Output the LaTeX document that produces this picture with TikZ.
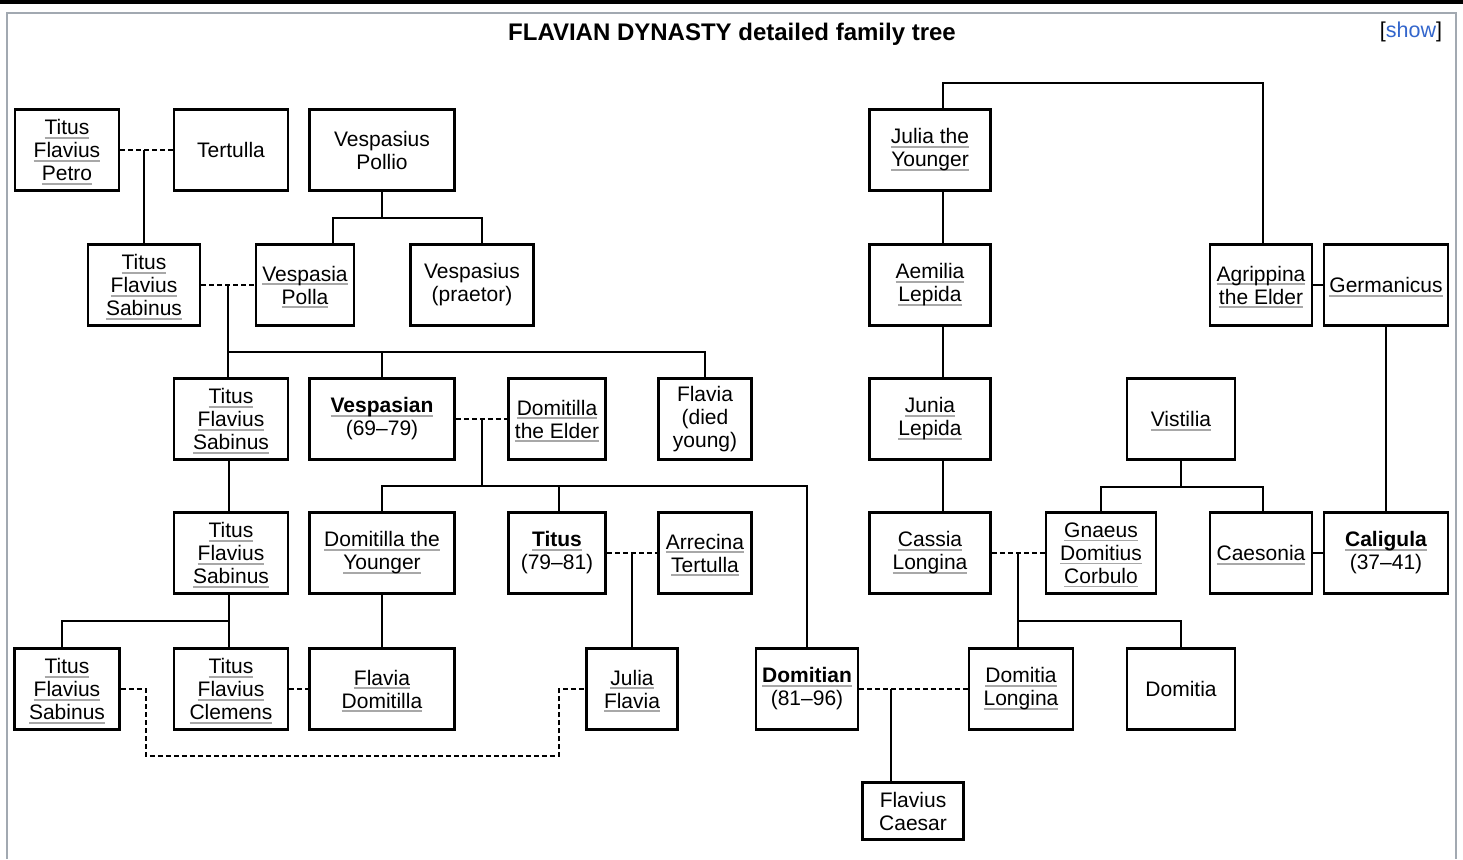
\documentclass[tikz,border=0pt]{standalone}
\usepackage{fontspec}
\setmainfont{Liberation Sans}
\usetikzlibrary{calc}

\definecolor{linkgray}{HTML}{A8A8A8}
\definecolor{framegray}{HTML}{A2A9B1}
\definecolor{linkblue}{HTML}{3366CC}

% grey link underline, one per text line
\newcommand\lnk[1]{\leavevmode\setbox0\hbox{#1}\rlap{\smash{\textcolor{linkgray}{\rule[-4.2pt]{\wd0}{1.8pt}}}}\box0}

\begin{document}
\begin{tikzpicture}[x=1pt, y=-1pt,
	person/.style={draw, line width=2.6pt, inner sep=2pt, minimum height=80.5pt, align=center,
		font=\fontsize{21}{23}\selectfont},
	descent/.style={line width=2pt},
	marriage/.style={line width=1.6pt, dash pattern=on 5pt off 3pt}]
	\useasboundingbox (0, 0) rectangle (1463, 859);
	\fill[white] (0, 0) rectangle (1463, 859);
	\fill[black] (0, 0) rectangle (1463, 4);
	\draw[framegray, line width=1.5pt] (7, 859) |- (1456, 13) -- (1456, 859);

	\draw (732, 34) node[font=\fontsize{24}{26}\selectfont\bfseries] (title) {FLAVIAN DYNASTY detailed family tree};
	\draw (1411, 32) node[font=\fontsize{21.5}{23}\selectfont] (showlink) {[\textcolor{linkblue}{show}]};

	% row 1
	\draw (67, 150) 	node[person, minimum width=104pt] 	(petro) 	{\lnk{Titus}\\\lnk{Flavius}\\\lnk{Petro}};
	\draw (231, 150) 	node[person, minimum width=114pt] 	(tertulla) 	{Tertulla};
	\draw (382, 150) 	node[person, minimum width=145pt] 	(pollio) 	{Vespasius\\Pollio};
	\draw (930, 150) 	node[person, minimum width=121pt] 	(juliay) 	{\lnk{Julia the}\\\lnk{Younger}};
	% row 2
	\draw (144, 285) 	node[person, minimum width=112pt] 	(tfs1) 		{\lnk{Titus}\\\lnk{Flavius}\\\lnk{Sabinus}};
	\draw (305, 285) 	node[person, minimum width=98pt] 	(polla) 	{\lnk{Vespasia}\\\lnk{Polla}};
	\draw (472, 285) 	node[person, minimum width=123pt] 	(praetor) 	{Vespasius\\(praetor)};
	\draw (930, 285) 	node[person, minimum width=121pt] 	(aemilia) 	{\lnk{Aemilia}\\\lnk{Lepida}};
	\draw (1261, 285) 	node[person, minimum width=102pt] 	(agrippina) 	{\lnk{Agrippina}\\\lnk{the Elder}};
	\draw (1386, 285) 	node[person, minimum width=124pt] 	(germanicus) 	{\lnk{Germanicus}};
	% row 3
	\draw (231, 419) 	node[person, minimum width=114pt] 	(tfs2) 		{\lnk{Titus}\\\lnk{Flavius}\\\lnk{Sabinus}};
	\draw (382, 419) 	node[person, minimum width=145pt] 	(vespasian) 	{\lnk{\textbf{Vespasian}}\\(69--79)};
	\draw (557, 419) 	node[person, minimum width=97pt] 	(domelder) 	{\lnk{Domitilla}\\\lnk{the Elder}};
	\draw (705, 419) 	node[person, minimum width=93pt] 	(flaviady) 	{Flavia\\(died\\young)};
	\draw (930, 419) 	node[person, minimum width=121pt] 	(junia) 	{\lnk{Junia}\\\lnk{Lepida}};
	\draw (1181, 419) 	node[person, minimum width=108pt] 	(vistilia) 	{\lnk{Vistilia}};
	% row 4
	\draw (231, 553) 	node[person, minimum width=114pt] 	(tfs3) 		{\lnk{Titus}\\\lnk{Flavius}\\\lnk{Sabinus}};
	\draw (382, 553) 	node[person, minimum width=145pt] 	(domyounger) 	{\lnk{Domitilla the}\\\lnk{Younger}};
	\draw (557, 553) 	node[person, minimum width=97pt] 	(titus) 	{\lnk{\textbf{Titus}}\\(79--81)};
	\draw (705, 553) 	node[person, minimum width=93pt] 	(arrecina) 	{\lnk{Arrecina}\\\lnk{Tertulla}};
	\draw (930, 553) 	node[person, minimum width=121pt] 	(cassia) 	{\lnk{Cassia}\\\lnk{Longina}};
	\draw (1101, 553) 	node[person, minimum width=110pt] 	(corbulo) 	{\lnk{Gnaeus}\\\lnk{Domitius}\\\lnk{Corbulo}};
	\draw (1261, 553) 	node[person, minimum width=102pt] 	(caesonia) 	{\lnk{Caesonia}};
	\draw (1386, 553) 	node[person, minimum width=124pt] 	(caligula) 	{\lnk{\textbf{Caligula}}\\(37--41)};
	% row 5
	\draw (67, 689) 	node[person, minimum width=105pt] 	(tfs4) 		{\lnk{Titus}\\\lnk{Flavius}\\\lnk{Sabinus}};
	\draw (231, 689) 	node[person, minimum width=114pt] 	(clemens) 	{\lnk{Titus}\\\lnk{Flavius}\\\lnk{Clemens}};
	\draw (382, 689) 	node[person, minimum width=145pt] 	(flaviadom) 	{\lnk{Flavia}\\\lnk{Domitilla}};
	\draw (632, 689) 	node[person, minimum width=91pt] 	(juliaflavia) 	{\lnk{Julia}\\\lnk{Flavia}};
	\draw (807, 689) 	node[person, minimum width=102pt] 	(domitian) 	{\lnk{\textbf{Domitian}}\\(81--96)};
	\draw (1021, 689) 	node[person, minimum width=104pt] 	(domlongina) 	{\lnk{Domitia}\\\lnk{Longina}};
	\draw (1181, 689) 	node[person, minimum width=108pt] 	(domitia) 	{Domitia};
	% row 6
	\draw (913, 811) 	node[person, minimum width=101pt, minimum height=57.5pt] 	(fcaesar) 	{Flavius\\Caesar};

	% Flavian side
	\draw[marriage] (petro) -- (tertulla);
	\draw[descent] (tfs1.north) -- (tfs1.north |- petro.east);

	\coordinate (pollioJ) at ($(pollio.south)+(0,26)$);
	\draw[descent] (pollio.south) -- (pollioJ);
	\draw[descent] ([xshift=28pt]polla.north) |- (pollioJ) -| ([xshift=10pt]praetor.north);

	\draw[marriage] (tfs1) -- (polla);
	\coordinate (sabJ) at ($(tfs1.east)!0.5!(polla.west)$);
	\coordinate (sabBar) at ($(sabJ)+(0,67)$);
	\draw[descent] (sabJ) -- (sabJ |- tfs2.north);
	\draw[descent] (vespasian.north) |- (sabBar) -| (flaviady.north);

	\draw[marriage] (vespasian) -- (domelder);
	\coordinate (vespJ) at ($(vespasian.east)!0.5!(domelder.west)$);
	\coordinate (vespBar) at ($(vespJ)+(0,67)$);
	\draw[descent] (vespJ) -- (vespBar);
	\draw[descent] (domyounger.north) |- (vespBar) -| (domitian.north);
	\draw[descent] ([xshift=2pt]titus.north) -- ([xshift=2pt]titus.north |- vespBar);

	\draw[marriage] (titus) -- (arrecina);
	\draw[descent] (juliaflavia.north) -- (juliaflavia.north |- titus.east);

	\draw[descent] ([xshift=-2pt]tfs2.south) -- ([xshift=-2pt]tfs3.north);
	\coordinate (tfs3Bar) at ($(tfs3.south)+(-2,26)$);
	\draw[descent] ([xshift=-2pt]tfs3.south) -- (tfs3Bar);
	\draw[descent] ([xshift=-5pt]tfs4.north) |- (tfs3Bar) -- (tfs3Bar |- clemens.north);

	\draw[marriage] (clemens) -- (flaviadom);
	\draw[descent] (domyounger) -- (flaviadom);
	\draw[marriage] (tfs4.east) -- ++(25, 0) |- ($(juliaflavia.west)+(-26, 67)$) |- (juliaflavia.west);

	\draw[marriage] (domitian) -- (domlongina);
	\draw[descent] ([xshift=-22pt]fcaesar.north) -- ([xshift=-22pt]fcaesar.north |- domitian.east);

	% Julio-Claudian side
	\draw[descent] ([xshift=13pt]juliay.north) -- ++(0, -25) -| ([xshift=2pt]agrippina.north);
	\draw[descent] ([xshift=13pt]juliay.south) -- ([xshift=13pt]aemilia.north);
	\draw[descent] ([xshift=13pt]aemilia.south) -- ([xshift=13pt]junia.north);
	\draw[descent] ([xshift=13pt]junia.south) -- ([xshift=13pt]cassia.north);
	\draw[descent] (agrippina) -- (germanicus);
	\draw[descent] (germanicus) -- (caligula);
	\draw[descent] (caesonia) -- (caligula);

	\coordinate (vistBar) at ($(vistilia.south)+(0,26)$);
	\draw[descent] (vistilia.south) -- (vistBar);
	\draw[descent] (corbulo.north) |- (vistBar) -| ([xshift=2pt]caesonia.north);

	\draw[marriage] (cassia) -- (corbulo);
	\coordinate (cassJ) at ($(cassia.east)!0.5!(corbulo.west)$);
	\coordinate (cassBar) at ($(cassJ)+(0,68)$);
	\draw[descent] (cassJ) -- (cassJ |- domlongina.north);
	\draw[descent] (cassBar) -| (domitia.north);
\end{tikzpicture}
\end{document}
